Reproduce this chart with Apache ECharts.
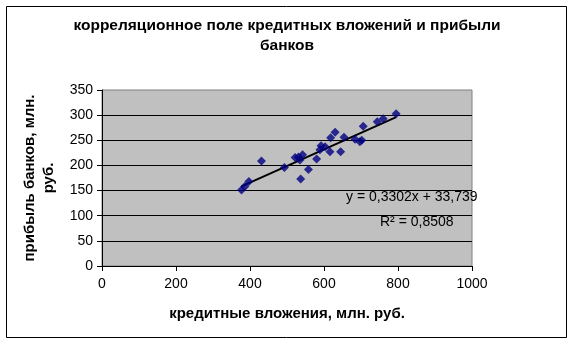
<!DOCTYPE html>
<html><head><meta charset="utf-8">
<script src="https://cdn.jsdelivr.net/npm/echarts@6/dist/echarts.min.js"></script>
<style>html,body{margin:0;padding:0;background:#fff}#c{width:574px;height:347px}</style>
</head><body><div id="c"></div>
<script>
const creditX = [377,386,397,431,493,522,531,542,535,537,558,580,589,592,603,616,618,630,645,654,684,697,702,706,744,760,795];
const profitY = [151,158,168,209,196,216,217,221,211,173,192,213,231,239,237,227,255,266,227,256,252,247,250,278,287,293,303];
const trendX = [377,795];
const trendY = [158.2,296.2];
const xTicks = [0,200,400,600,800,1000];
const yTicks = [0,50,100,150,200,250,300,350];
const titleText = 'корреляционное поле кредитных вложений и прибыли\nбанков';
const xName = 'кредитные вложения, млн. руб.';
const yName = 'прибыль банков, млн.\nруб.';
const eqText = 'y = 0,3302x + 33,739';
const r2Text = 'R² = 0,8508';

const FONT = "'Liberation Sans', Arial, sans-serif";
const chart = echarts.init(document.getElementById('c'), null, {renderer:'canvas'});
chart.setOption({
  animation:false,
  backgroundColor:'#fff',
  title:{text:titleText,left:'center',top:11,
    textStyle:{fontFamily:FONT,fontWeight:'bold',fontSize:15.5,color:'#000',lineHeight:20}},
  grid:{left:102,top:90,right:102,bottom:81,show:true,backgroundColor:'#C0C0C0',borderColor:'#808080',borderWidth:1},
  xAxis:{type:'value',min:xTicks[0],max:xTicks[xTicks.length-1],interval:200,
    name:xName,nameLocation:'middle',nameGap:40,
    nameTextStyle:{fontFamily:FONT,fontWeight:'bold',fontSize:15,color:'#000'},
    axisLine:{lineStyle:{color:'#000',width:1}},
    axisTick:{show:true,inside:false,length:5,lineStyle:{color:'#000'}},
    axisLabel:{fontFamily:FONT,fontSize:14,color:'#000',margin:11,formatter:v=>String(v)},
    splitLine:{show:false}},
  yAxis:{type:'value',min:yTicks[0],max:yTicks[yTicks.length-1],interval:50,
    name:yName,nameLocation:'middle',nameGap:37,
    nameTextStyle:{fontFamily:FONT,fontWeight:'bold',fontSize:15,color:'#000',lineHeight:19},
    axisLine:{show:true,lineStyle:{color:'#000',width:1}},
    axisTick:{show:true,inside:false,length:5,lineStyle:{color:'#000'}},
    axisLabel:{fontFamily:FONT,fontSize:14,color:'#000',margin:9,formatter:v=>String(v)},
    splitLine:{show:true,showMaxLine:false,lineStyle:{color:'#000',width:1}}},
  series:[
    {type:'scatter',symbol:'diamond',symbolSize:9,itemStyle:{color:'#000080'},
      data:creditX.map((x,i)=>[x,profitY[i]]),z:3},
    {type:'line',data:trendX.map((x,i)=>[x,trendY[i]]),symbol:'none',
      lineStyle:{color:'#000',width:2},z:2}
  ],
  graphic:[
    {type:'rect',shape:{x:6.5,y:6.5,width:560,height:331},style:{fill:'none',stroke:'#000',lineWidth:1},silent:true},
    {type:'text',left:346,top:190,style:{text:eqText,fontFamily:FONT,fontSize:14,fill:'#000'},z:10},
    {type:'text',left:380,top:215,style:{text:r2Text,fontFamily:FONT,fontSize:14,fill:'#000'},z:10}
  ]
});
</script></body></html>
